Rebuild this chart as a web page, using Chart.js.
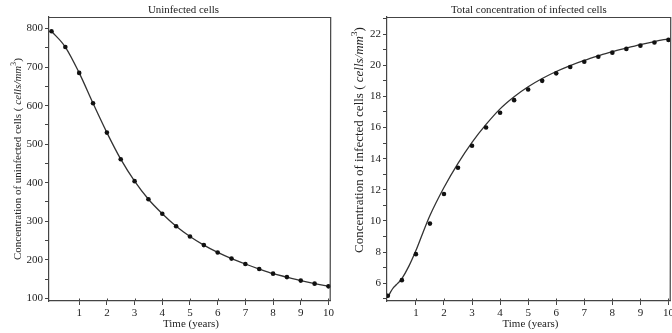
<!DOCTYPE html>
<html><head><meta charset="utf-8">
<script src="https://cdn.jsdelivr.net/npm/chart.js@4"></script>
<style>
html,body{margin:0;padding:0;overflow:hidden;background:#fff;width:672px;height:333px;position:relative}
#w1{position:absolute;left:0;top:0;width:336px;height:333px}
#w2{position:absolute;left:336px;top:0;width:340px;height:333px}
</style></head><body>
<div id="w1"><canvas id="c1" width="336" height="333"></canvas></div>
<div id="w2"><canvas id="c2" width="340" height="333"></canvas></div>
<script>
// ---- data ----
const timeYears = [0,0.5,1,1.5,2,2.5,3,3.5,4,4.5,5,5.5,6,6.5,7,7.5,8,8.5,9,9.5,10];
const uninfectedData = [793,752,685,606,530,461,404,357,319.5,287,260.5,238,219,203,189,176,164,155,146,138,131];
const infectedData = [5.2,6.2,7.87,9.83,11.73,13.42,14.83,16.0,16.95,17.76,18.44,19.0,19.48,19.89,20.23,20.55,20.81,21.05,21.26,21.46,21.63];
const infectedModelTime = [0,0.1,0.2,0.3,0.4,0.5,0.75,1,1.25,1.5,2,2.5,3,3.5,4,4.5,5,5.5,6,6.5,7,7.5,8,8.5,9,9.5,10];
const infectedModel = [5.1,5.45,5.72,5.9,6.08,6.3,7.1,8.1,9.25,10.35,12.15,13.7,15.05,16.2,17.2,17.98,18.62,19.15,19.6,19.98,20.31,20.6,20.87,21.1,21.32,21.52,21.7];
const xTickValues = [1,2,3,4,5,6,7,8,9,10];
const leftYTickValues = [100,150,200,250,300,350,400,450,500,550,600,650,700,750,800];
const leftYTickLabels = ['100','','200','','300','','400','','500','','600','','700','','800'];
const rightYTickValues = [5,6,7,8,9,10,11,12,13,14,15,16,17,18,19,20,21,22,23];
const rightYTickLabels = ['','6','','8','','10','','12','','14','','16','','18','','20','','22',''];

const SERIF = '"Liberation Serif","DejaVu Serif",serif';
const TXT = '#222';
const AX = '#444';

function pts(xs, ys){ return xs.map((x,i)=>({x:x, y:ys[i]})); }

// draw mixed-style text centred at (cx,cy), fitted to target width
function drawParts(ctx, parts, cx, cy, target, rotate){
  ctx.save();
  const base = 11;
  let w = 0;
  parts.forEach(p=>{ ctx.font = (p.it?'italic ':'') + (p.sup?base*0.7:base) + 'px ' + SERIF; w += ctx.measureText(p.t).width; });
  const s = target / w;
  ctx.translate(cx, cy);
  if (rotate) ctx.rotate(-Math.PI/2);
  ctx.textBaseline = 'middle';
  ctx.textAlign = 'left';
  ctx.fillStyle = TXT;
  let x = -target/2;
  parts.forEach(p=>{
    const fs = (p.sup?base*0.7:base)*s;
    ctx.font = (p.it?'italic ':'') + fs + 'px ' + SERIF;
    ctx.fillText(p.t, x, p.sup ? -base*s*0.38 : 0);
    x += ctx.measureText(p.t).width;
  });
  ctx.restore();
}

const decor = {
  id:'decor',
  afterDraw(chart, args, o){
    const ctx = chart.ctx, a = chart.chartArea;
    ctx.save();
    ctx.strokeStyle = AX; ctx.lineWidth = 1.2;
    ctx.beginPath();
    ctx.moveTo(a.left, a.top+0.5); ctx.lineTo(a.right, a.top+0.5); ctx.lineTo(a.right-0.5, a.bottom);
    ctx.stroke();
    // inner part of x ticks (ticks straddle the axis)
    const xs = chart.scales.x;
    ctx.lineWidth = 1;
    ctx.beginPath();
    xTickValues.forEach(v=>{ const px = Math.round(xs.getPixelForValue(v))+0.5; ctx.moveTo(px, a.bottom); ctx.lineTo(px, a.bottom-2.5); });
    ctx.stroke();
    ctx.restore();
    drawParts(ctx, [{t:o.title}], o.titleX, 10.5, o.titleW, false);
    drawParts(ctx, [{t:'Time (years)'}], o.xtX, 324, 56, false);
    drawParts(ctx, [{t:o.ylab+' ( '},{t:'cells/mm',it:true},{t:'3',it:false,sup:true},{t:')'}], o.ytX, o.ytY, o.ytW, true);
  }
};

function makeChart(id, lineData, pointData, xmin, ymin, ymax, yVals, yLabs, yW, padR, dec){
  return new Chart(document.getElementById(id), {
    type:'scatter',
    data:{datasets:[
      {data:lineData, showLine:true, pointRadius:0, borderColor:'#333', borderWidth:1.3, cubicInterpolationMode:'monotone', order:2},
      {data:pointData, showLine:false, pointRadius:2.3, pointBackgroundColor:'#111', pointBorderColor:'#111', pointBorderWidth:0, order:1}
    ]},
    options:{
      responsive:false, animation:false, devicePixelRatio:1,
      layout:{padding:{top:17, right:padR, left:0, bottom:0}},
      plugins:{legend:{display:false}, tooltip:{enabled:false}, title:{display:false}, decor:dec},
      scales:{
        x:{type:'linear', min:xmin, max:10.08,
          afterBuildTicks:s=>{ s.ticks = xTickValues.map(v=>({value:v})); },
          ticks:{callback:v=>String(v), font:{family:SERIF,size:11}, color:TXT, padding:2, maxRotation:0, autoSkip:false},
          grid:{drawOnChartArea:false, tickLength:4, color:AX, lineWidth:1},
          border:{color:AX, width:1.2},
          afterFit:s=>{ s.height = 32; }
        },
        y:{type:'linear', min:ymin, max:ymax,
          afterBuildTicks:s=>{ s.ticks = yVals.map(v=>({value:v})); },
          ticks:{callback:(v,i)=>yLabs[i], font:{family:SERIF,size:11}, color:TXT, padding:2, autoSkip:false},
          grid:{drawOnChartArea:false, tickLength:4, color:AX, lineWidth:1},
          border:{color:AX, width:1.2},
          afterFit:s=>{ s.width = yW; }
        }
      }
    },
    plugins:[decor]
  });
}

makeChart('c1', pts(timeYears, uninfectedData), pts(timeYears, uninfectedData), -0.09, 93, 830,
  leftYTickValues, leftYTickLabels, 49, 3,
  {title:'Uninfected cells', titleX:183.5, titleW:71, xtX:191, ylab:'Concentration of uninfected cells', ytX:18, ytY:159, ytW:202});

makeChart('c2', pts(infectedModelTime, infectedModel), pts(timeYears, infectedData), -0.03, 4.86, 23.1,
  rightYTickValues, rightYTickLabels, 51, 2,
  {title:'Total concentration of infected cells', titleX:193, titleW:156, xtX:194.5, ylab:'Concentration of infected cells', ytX:24, ytY:140, ytW:226});
</script>
</body></html>
